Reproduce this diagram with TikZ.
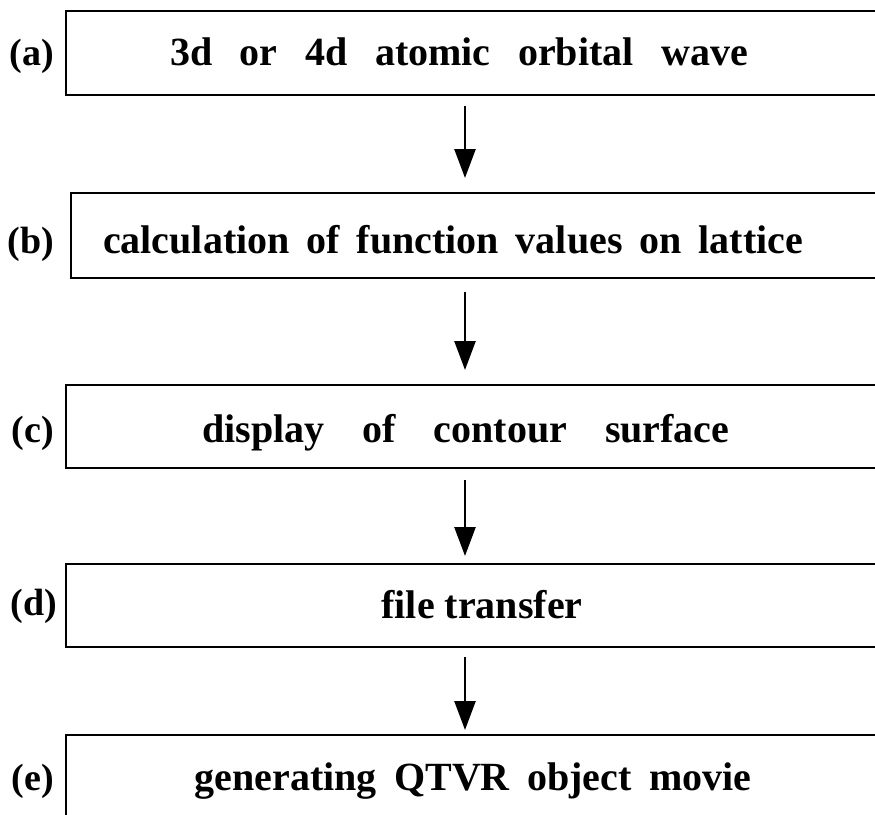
\documentclass[tikz,border=0pt]{standalone}
\usepackage{fontspec}
\setmainfont{Liberation Serif}
\usetikzlibrary{arrows.meta}
\begin{document}
\begin{tikzpicture}[x=1pt, y={(0pt,-1pt)},
  stepbox/.style={draw, line width=2.6pt, inner sep=0pt, outer sep=0pt},
  steptext/.style={anchor=base, inner sep=0pt, font=\fontsize{40}{48}\selectfont\bfseries},
  tag/.style={anchor=base east, inner sep=0pt, font=\fontsize{38}{46}\selectfont\bfseries},
  flow/.style={line width=2.6pt, -{Triangle[length=29pt,width=21pt]}}]
\useasboundingbox (0,0) rectangle (875,814);
\clip (0,0) rectangle (875,814);

% process boxes (they run past the right and bottom edges)
\node[stepbox, minimum width=814pt, minimum height=84pt] (boxa) at (473,53) {};
\node[stepbox, minimum width=809pt, minimum height=85pt] (boxb) at (475.5,235.5) {};
\node[stepbox, minimum width=814pt, minimum height=83pt] (boxc) at (473,426.5) {};
\node[stepbox, minimum width=814pt, minimum height=83pt] (boxd) at (473,605.5) {};
\node[stepbox, minimum width=814pt, minimum height=85pt] (boxe) at (473,777.5) {};

% box texts
\node[steptext] (ta) at (459,65) {\makebox[578pt][s]{3d or 4d atomic orbital wave}};
\node[steptext] (tb) at (453,253) {\makebox[700pt][s]{calculation of function values on lattice}};
\node[steptext] (tc) at (466,442) {\makebox[527pt][s]{display of contour surface}};
\node[steptext] (td) at (482,618) {file transfer};
\node[steptext] (te) at (473,790) {\makebox[557pt][s]{generating QTVR object movie}};

% step tags
\node[tag] (la) at (54,65) {(a)};
\node[tag] (lb) at (54,253) {(b)};
\node[tag] (lc) at (54,442) {(c)};
\node[tag] (ld) at (57,615) {(d)};
\node[tag] (le) at (54,790) {(e)};

% arrows between steps
\coordinate (ax) at (465,0);
\draw[flow, shorten <=11pt, shorten >=15pt] (boxa.south -| ax) -- (boxb.north -| ax);
\draw[flow, shorten <=14pt, shorten >=15pt] (boxb.south -| ax) -- (boxc.north -| ax);
\draw[flow, shorten <=12pt, shorten >=8pt] (boxc.south -| ax) -- (boxd.north -| ax);
\draw[flow, shorten <=10pt, shorten >=5pt] (boxd.south -| ax) -- (boxe.north -| ax);
\end{tikzpicture}
\end{document}
